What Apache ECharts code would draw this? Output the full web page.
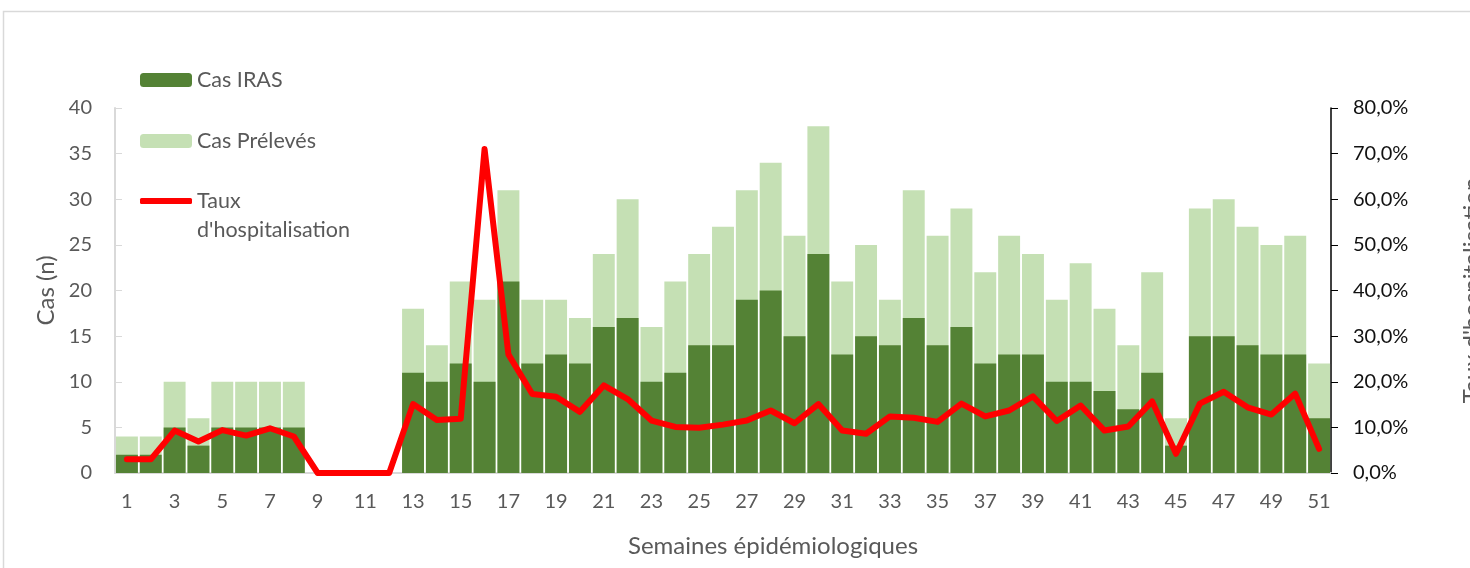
<!DOCTYPE html>
<html lang="fr">
<head>
	<meta charset="utf-8">
	<title>Cas IRAS et taux d'hospitalisation</title>
	<style>
		html, body { margin: 0; padding: 0; background: #fff; }
		#chart { width: 1470px; height: 568px; }
	</style>
</head>
<body>
	<div id="chart"></div>
	<script src="https://cdn.jsdelivr.net/npm/echarts@6/dist/echarts.min.js"></script>
	<script>
		// semaines epidemiologiques
		const semaines = ['1','2','3','4','5','6','7','8','9','10','11','12','13','14','15','16','17','18','19','20','21','22','23','24','25','26','27','28','29','30','31','32','33','34','35','36','37','38','39','40','41','42','43','44','45','46','47','48','49','50','51'];
		// cas preleves (barre claire, derriere)
		const casPreleves = [4,4,10,6,10,10,10,10,0,0,0,0,18,14,21,19,31,19,19,17,24,30,16,21,24,27,31,34,26,38,21,25,19,31,26,29,22,26,24,19,23,18,14,22,6,29,30,27,25,26,12];
		// cas IRAS (barre foncee)
		const casIRAS = [2,2,5,3,5,5,5,5,0,0,0,0,11,10,12,10,21,12,13,12,16,17,10,11,14,14,19,20,15,24,13,15,14,17,14,16,12,13,13,10,10,9,7,11,3,15,15,14,13,13,6];
		// taux d'hospitalisation en %
		const tauxHosp = [3.0,3.0,9.3,6.9,9.4,8.2,9.8,8.0,0,0,0,0,15.1,11.6,11.9,71.0,26.0,17.3,16.7,13.4,19.2,16.2,11.5,10.1,9.9,10.6,11.5,13.7,10.9,15.1,9.3,8.6,12.4,12.1,11.2,15.2,12.4,13.7,16.8,11.4,14.8,9.3,10.2,15.7,4.2,15.2,17.8,14.4,12.8,17.4,5.3];

		const font = 'Lato, "Open Sans", sans-serif';
		const grey = '#595959';

		let myChart = echarts.init(document.getElementById('chart'), null, { renderer: 'canvas' });

		let legendText = { color: grey, fontSize: 21.5, fontFamily: font, lineHeight: 29 };

		let option = {
			animation: false,
			textStyle: { fontFamily: font },
			graphic: [{
				type: 'rect',
				silent: true,
				shape: { x: 3.5, y: 11.5, width: 1600, height: 700 },
				style: { fill: 'none', stroke: '#d9d9d9', lineWidth: 1.5 }
			}],
			legend: [{
				orient: 'vertical',
				left: 140, top: 65.5,
				padding: 0,
				itemWidth: 52, itemHeight: 14,
				textStyle: legendText,
				data: ['Cas IRAS']
			}, {
				orient: 'vertical',
				left: 140, top: 126.5,
				padding: 0,
				itemWidth: 52, itemHeight: 14,
				textStyle: legendText,
				data: ['Cas Prélevés']
			}, {
				// ligne vide en tete pour aligner "Taux" sur le trait
				orient: 'vertical',
				left: 140, top: 157.5,
				padding: 0,
				itemWidth: 52, itemHeight: 6,
				textStyle: legendText,
				formatter: function () { return "\nTaux\nd'hospitalisation"; },
				data: [{ name: "Taux d'hospitalisation", icon: 'roundRect' }]
			}],
			grid: { left: 115, right: 139, top: 108, bottom: 95, outerBoundsMode: 'none', containLabel: false },
			xAxis: {
				type: 'category',
				data: semaines,
				name: 'Semaines épidémiologiques',
				nameLocation: 'middle',
				nameGap: 61,
				nameTextStyle: { color: grey, fontSize: 24, fontFamily: font, padding: [0, 0, 0, 100] },
				axisLine: { lineStyle: { color: '#d9d9d9', width: 2 } },
				axisTick: { inside: true, length: 5, lineStyle: { color: '#d9d9d9' } },
				axisLabel: { interval: 1, color: grey, fontSize: 20, fontFamily: font, margin: 19 }
			},
			yAxis: [{
				type: 'value',
				min: 0, max: 40, interval: 5,
				name: 'Cas (n)',
				nameLocation: 'middle',
				nameGap: 54,
				nameTextStyle: { color: grey, fontSize: 24, fontFamily: font },
				splitLine: { show: false },
				axisLine: { show: true, lineStyle: { color: '#d9d9d9', width: 2 } },
				axisTick: { show: true, inside: true, length: 7, lineStyle: { color: '#d9d9d9' } },
				axisLabel: { color: grey, fontSize: 20, fontFamily: font, margin: 23 }
			}, {
				type: 'value',
				min: 0, max: 80, interval: 10,
				position: 'right',
				name: "Taux d'hospitalisation",
				nameLocation: 'middle',
				nameGap: 129,
				nameRotate: 90,
				nameTextStyle: { color: grey, fontSize: 24, fontFamily: font },
				splitLine: { show: false },
				axisLine: { show: true, lineStyle: { color: '#000', width: 1.5 } },
				axisTick: { show: true, length: 7, lineStyle: { color: '#000' } },
				axisLabel: {
					color: '#111', fontSize: 20, fontFamily: font, margin: 22,
					formatter: function (v) { return v.toFixed(1).replace('.', ',') + '%'; }
				}
			}],
			series: [{
				name: 'Cas Prélevés',
				type: 'bar',
				data: casPreleves,
				barCategoryGap: '8%',
				itemStyle: { color: '#c5e0b4' }
			}, {
				name: 'Cas IRAS',
				type: 'bar',
				data: casIRAS,
				barGap: '-100%',
				itemStyle: { color: '#548235' }
			}, {
				name: "Taux d'hospitalisation",
				type: 'line',
				yAxisIndex: 1,
				data: tauxHosp,
				symbol: 'none',
				z: 5,
				itemStyle: { color: '#ff0000' },
				lineStyle: { color: '#ff0000', width: 6, cap: 'round', join: 'round' }
			}]
		};

		if (option && typeof option === 'object') {
			myChart.setOption(option);
		}
		window.addEventListener('resize', myChart.resize);
	</script>
</body>
</html>
